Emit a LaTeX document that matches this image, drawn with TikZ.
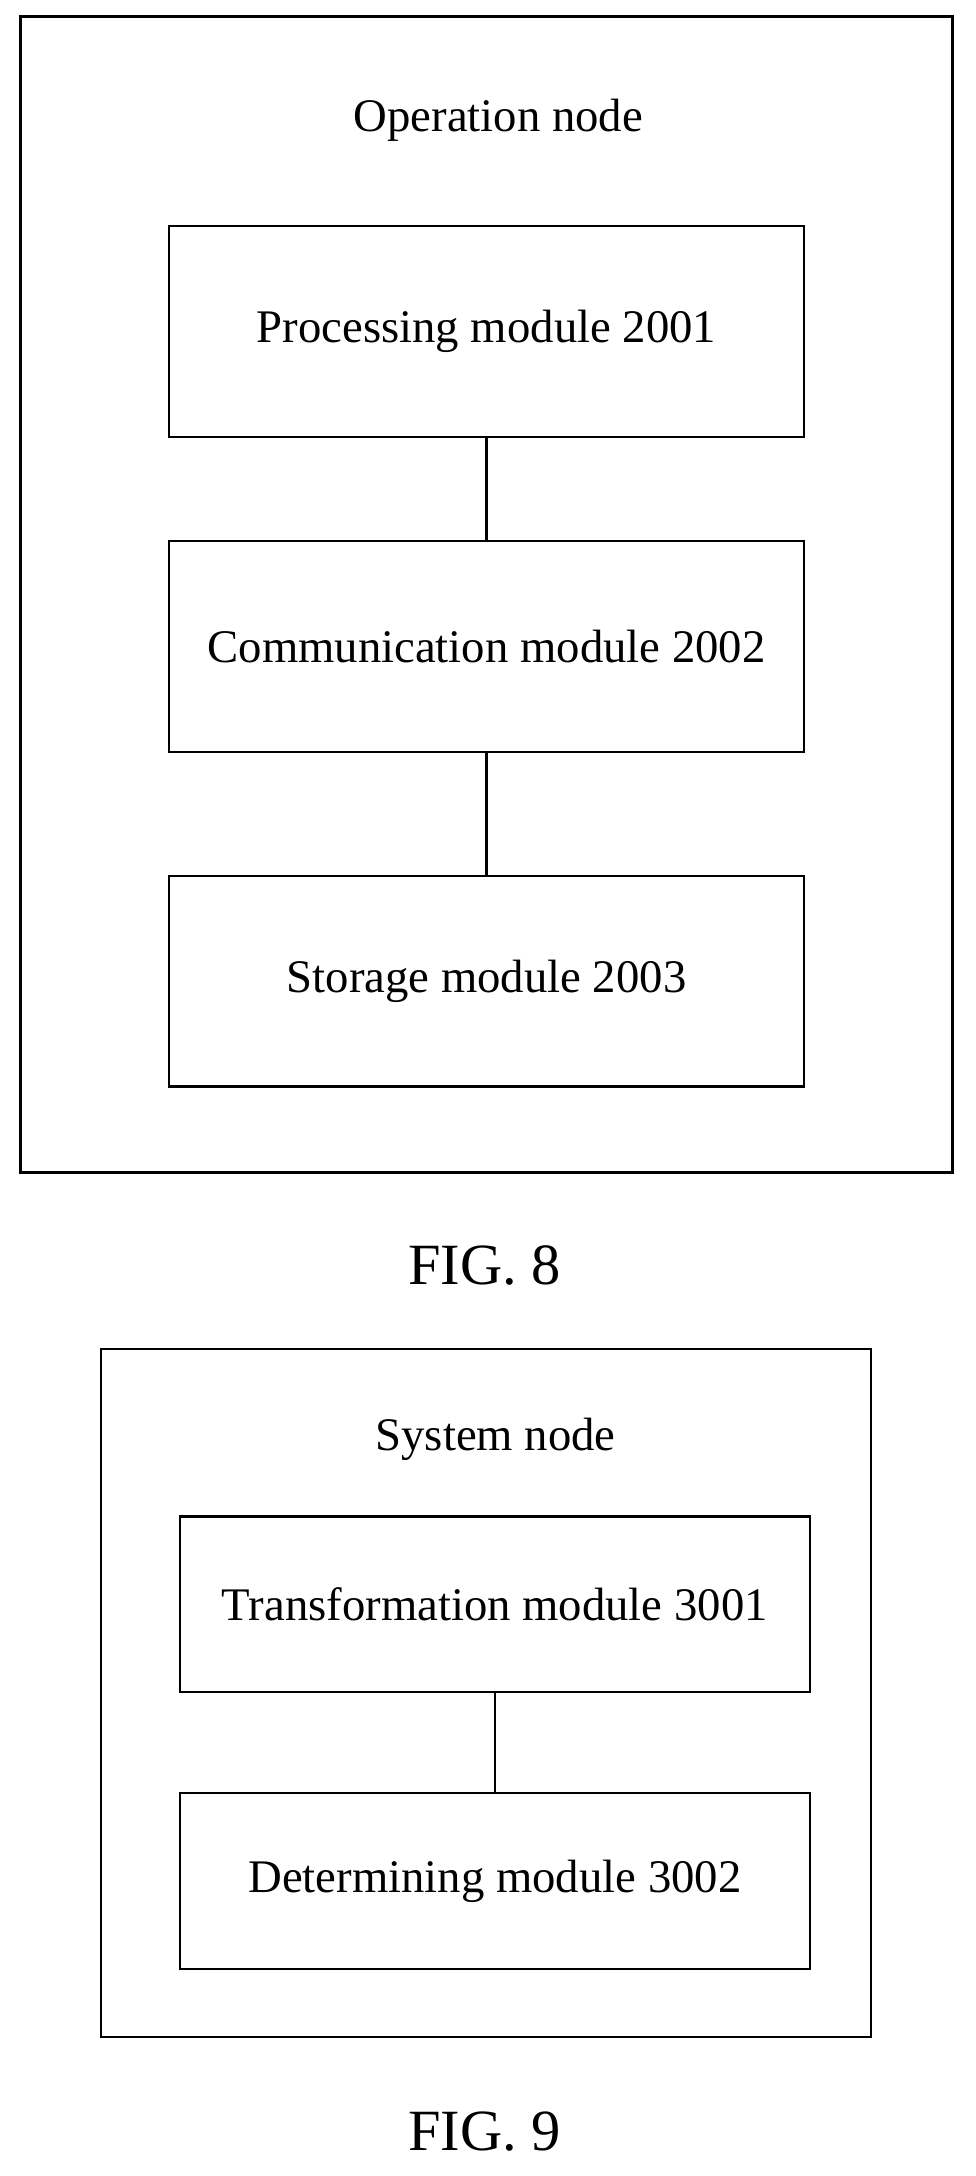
\documentclass[tikz,border=0pt]{standalone}
\usepackage{fontspec}
\setmainfont{Liberation Serif}
\usetikzlibrary{positioning}

\begin{document}
\begin{tikzpicture}[x=0.025cm,y=-0.025cm,
    module/.style={draw,line width=1.2pt,minimum width=11.475cm,minimum height=3.8cm,font=\fontsize{24}{28}\selectfont},
    smodule/.style={draw,line width=1.2pt,minimum width=11.375cm,minimum height=3.175cm,font=\fontsize{24}{28}\selectfont},
    frame/.style={draw,line width=1.2pt},
    caption/.style={font=\fontsize{30}{36}\selectfont}]
    \useasboundingbox (0,0) rectangle (705,1572);

    % FIG. 8
    \node[frame,minimum width=16.825cm,minimum height=20.875cm] (opnode) at (351.5,429.5) {};
    \node[font=\fontsize{24}{28}\selectfont] (optitle) at (360,87) {Operation node};
    \node[module] (proc) at (351.5,239.5) {Processing module 2001};
    \node[module] (comm) at (351.5,467) {Communication module 2002};
    \node[module] (stor) at (351.5,709) {Storage module 2003};
    \draw[line width=1.2pt] (proc) -- (comm);
    \draw[line width=1.2pt] (comm) -- (stor);
    \node[caption] (fig8) at (350,914) {FIG. 8};

    % FIG. 9
    \node[frame,minimum width=13.9cm,minimum height=12.425cm] (sysnode) at (351,1223) {};
    \node[font=\fontsize{24}{28}\selectfont] (systitle) at (358,1040) {System node};
    \node[smodule] (trans) at (357.5,1159) {Transformation module 3001};
    \node[smodule] (det) at (357.5,1359) {Determining module 3002};
    \draw[line width=1.2pt] (trans) -- (det);
    \node[caption] (fig9) at (350,1540) {FIG. 9};
\end{tikzpicture}
\end{document}
